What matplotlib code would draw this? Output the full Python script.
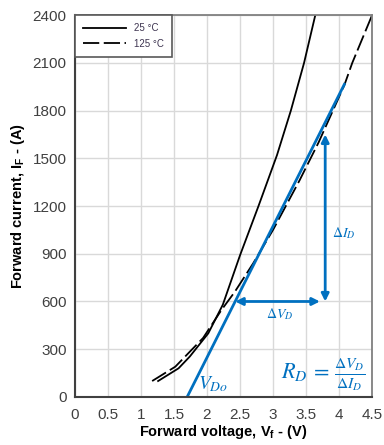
import matplotlib
matplotlib.use('Agg')

import matplotlib.pyplot as plt

plt.rcParams['font.family'] = ['Liberation Sans', 'DejaVu Sans']
plt.rcParams['mathtext.fontset'] = 'custom'
plt.rcParams['mathtext.rm'] = 'Liberation Sans'
plt.rcParams['mathtext.bf'] = 'Liberation Sans:bold'

# forward characteristic, 25 C
v_25 = [1.26, 1.57, 1.74, 2.02, 2.24, 2.50, 2.78, 3.06, 3.27, 3.47, 3.64]
i_25 = [100, 180, 254, 400, 580, 890, 1200, 1520, 1800, 2100, 2400]

# forward characteristic, 125 C
v_125 = [1.17, 1.52, 1.94, 2.22, 2.42, 2.70, 3.00, 3.40, 3.69, 4.08, 4.20, 4.50]
i_125 = [100, 190, 370, 547, 660, 840, 1050, 1360, 1600, 1960, 2100, 2400]

# linearised model: threshold voltage and end of the fitted line
v_fit = [1.70, 4.08]
i_fit = [0, 1965]

# delta arrows
i_low = 600
i_high = 1650
v_arrow = 3.79
v_left = v_fit[0] + i_low * (v_fit[1] - v_fit[0]) / i_fit[1]
v_right = 3.71

blue = '#0070C0'
grid_c = '#d9d9d9'

fig = plt.figure(figsize=(3.84, 4.45), dpi=100)
ax = fig.add_axes([0.195, 0.108, 0.774, 0.858])

ax.plot(v_25, i_25, color='black', lw=1.3, label='25 °C')
ax.plot(v_125, i_125, color='black', lw=1.3, linestyle=(0, (9, 2.5)), label='125 °C')
ax.plot(v_fit, i_fit, color=blue, lw=2.0)

arrow = dict(arrowstyle='<|-|>', color=blue, lw=2.0, mutation_scale=11,
             shrinkA=0, shrinkB=0)
ax.annotate('', xy=(v_arrow, i_high), xytext=(v_arrow, i_low), arrowprops=arrow)
ax.annotate('', xy=(v_left, i_low), xytext=(v_right, i_low), arrowprops=arrow)

ax.text(3.1, 520, r'$\Delta V_D$', color=blue, fontsize=10, ha='center', va='center',
        math_fontfamily='stix')
ax.text(4.07, 1030, r'$\Delta I_D$', color=blue, fontsize=10, ha='center', va='center',
        math_fontfamily='stix')
ax.text(1.87, 80, r'$V_{Do}$', color=blue, fontsize=14, ha='left', va='center',
        math_fontfamily='stix')
ax.text(3.12, 140, r'$R_D\,=\,\frac{\Delta V_D}{\Delta I_D}$', color=blue, fontsize=16,
        ha='left', va='center', math_fontfamily='stix')

ax.set_xlim(0, 4.5)
ax.set_ylim(0, 2400)
ax.set_xticks([0, 0.5, 1, 1.5, 2, 2.5, 3, 3.5, 4, 4.5])
ax.set_xticklabels(['0', '0.5', '1', '1.5', '2', '2.5', '3', '3.5', '4', '4.5'])
ax.set_yticks(range(0, 2401, 300))
ax.grid(True, color=grid_c, lw=1.0)
ax.set_axisbelow(True)
ax.tick_params(axis='y', length=0, labelsize=11, labelcolor='#404040', pad=6)
ax.tick_params(axis='x', length=0, labelsize=11, labelcolor='#404040', pad=8)

for side in ['top', 'right']:
    ax.spines[side].set_color('#808080')
    ax.spines[side].set_linewidth(1.3)
for side in ['left', 'bottom']:
    ax.spines[side].set_color('#404040')
    ax.spines[side].set_linewidth(1.5)

ax.set_xlabel(r'Forward voltage, V$_\mathbf{f}$ - (V)', fontsize=10.5,
              fontweight='bold', labelpad=1, math_fontfamily='custom')
ax.set_ylabel(r'Forward current, I$_\mathbf{F}$ - (A)', fontsize=10.5,
              fontweight='bold', labelpad=4, math_fontfamily='custom')

leg = ax.legend(loc='upper left', borderaxespad=0, fancybox=False, fontsize=7,
                handlelength=4.5, handletextpad=0.8, labelcolor='#3d3450',
                borderpad=0.8, labelspacing=0.6)
leg.get_frame().set_edgecolor('#595959')
leg.get_frame().set_linewidth(1.2)
leg.get_frame().set_alpha(1)

fig.savefig('out.png', dpi=100)
